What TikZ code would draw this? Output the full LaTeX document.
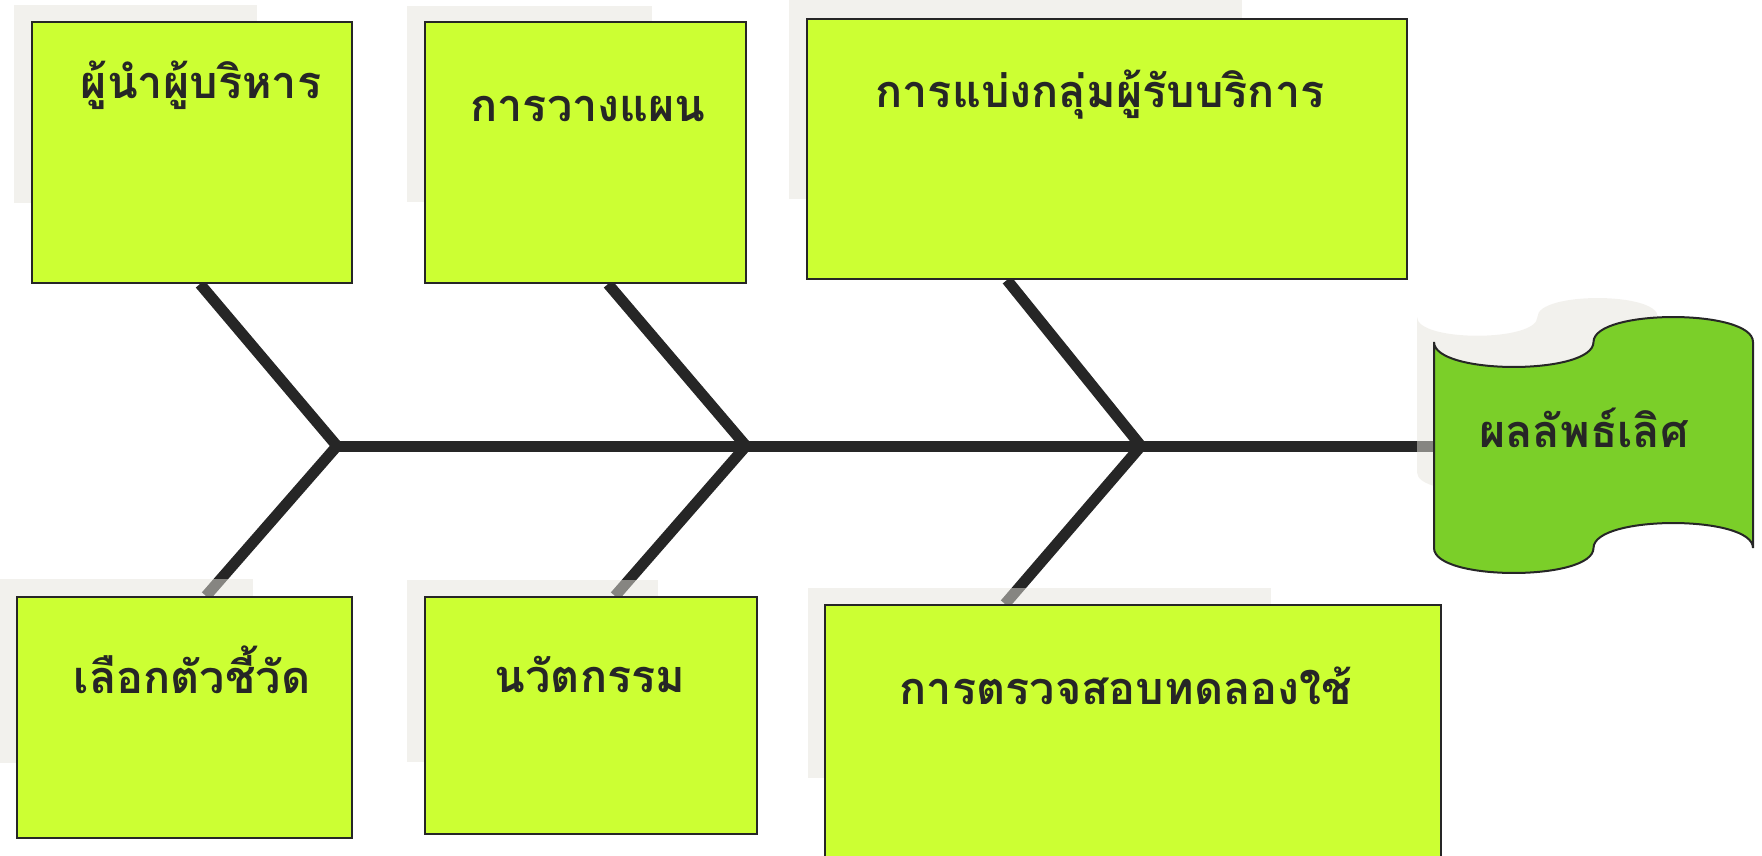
\documentclass[tikz,border=0pt]{standalone}
\usepackage{fontspec}
\newfontfamily\thaifont[Script=Thai]{Loma}
\usetikzlibrary{positioning}

\definecolor{boxgreen}{RGB}{204,255,51}
\definecolor{flaggreen}{RGB}{123,207,41}
\definecolor{inkgray}{RGB}{38,38,38}
\definecolor{shadowgray}{RGB}{230,228,220}

\pgfdeclarelayer{bones}
\pgfdeclarelayer{shadows}
\pgfsetlayers{bones,shadows,main}

\begin{document}
\begin{tikzpicture}[x=1pt,y=-1pt,
  bone/.style={line width=11pt, draw=inkgray},
  box/.style={draw=inkgray, line width=2pt, fill=boxgreen, inner sep=0pt},
  shadowbox/.style={fill=shadowgray, fill opacity=0.5},
  lbl/.style={anchor=base, text=inkgray, inner sep=0pt,
    font=\thaifont\bfseries\fontsize{45}{50}\selectfont}]

\useasboundingbox (0,0) rectangle (1762,855);

% the cause boxes
\node[box, minimum width=320pt, minimum height=261pt] (lead) at (192,152.5) {};
\node[box, minimum width=321pt, minimum height=261pt] (plan) at (585.5,152.5) {};
\node[box, minimum width=600pt, minimum height=260pt] (segment) at (1107,149) {};
\node[box, minimum width=335pt, minimum height=241pt] (kpi) at (184.5,717.5) {};
\node[box, minimum width=332pt, minimum height=237pt] (innov) at (591,715.5) {};
\node[box, minimum width=616pt, minimum height=252pt] (trial) at (1133,731) {};

\node[lbl] (leadtxt) at (201,98) {ผู้นำผู้บริหาร};
\node[lbl] (plantxt) at (588,121) {การวางแผน};
\node[lbl] (segtxt) at (1100,107) {การแบ่งกลุ่มผู้รับบริการ};
\node[lbl] (kpitxt) at (192,693) {เลือกตัวชี้วัด};
\node[lbl] (innovtxt) at (590,692) {นวัตกรรม};
\node[lbl] (trialtxt) at (1126,704) {การตรวจสอบทดลองใช้};

% the effect
\draw[draw=inkgray, line width=2pt, fill=flaggreen]
  (1434,342) .. controls (1434,375.3) and (1593.5,375.3) .. (1593.5,342)
  .. controls (1593.5,308.7) and (1753,308.7) .. (1753,342)
  -- (1753,548) .. controls (1753,514.7) and (1593.5,514.7) .. (1593.5,548)
  .. controls (1593.5,581.3) and (1434,581.3) .. (1434,548) -- cycle;
\node[lbl] (res) at (1584,447) {ผลลัพธ์เลิศ};

% spine and bones
\coordinate (j1) at (337,446);
\coordinate (j2) at (746,446);
\coordinate (j3) at (1141,446);

\begin{pgfonlayer}{bones}
\draw[bone] (j1) -- (j1 -| res.west);
\draw[bone] ([xshift=8pt]lead.south) -- (j1) -- ([xshift=21.5pt]kpi.north);
\draw[bone] ([xshift=22.5pt]plan.south) -- (j2) -- ([xshift=24pt]innov.north);
\draw[bone] ([xshift=-100pt]segment.south) -- (j3) -- ([xshift=-128pt]trial.north);
\end{pgfonlayer}

% shadows
\begin{pgfonlayer}{shadows}
\fill[shadowbox] (14,5) rectangle (257,203);
\fill[shadowbox] (407,6) rectangle (652,202);
\fill[shadowbox] (789,0) rectangle (1242,199);
\fill[shadowbox] (0,579) rectangle (253,763);
\fill[shadowbox] (407,580) rectangle (658,762);
\fill[shadowbox] (808,588) rectangle (1271,778);
\begin{scope}[shift={(1417,298)}, scale=0.755, shift={(-1434,-317)}]
\fill[shadowbox]
  (1434,342) .. controls (1434,375.3) and (1593.5,375.3) .. (1593.5,342)
  .. controls (1593.5,308.7) and (1753,308.7) .. (1753,342)
  -- (1753,548) .. controls (1753,514.7) and (1593.5,514.7) .. (1593.5,548)
  .. controls (1593.5,581.3) and (1434,581.3) .. (1434,548) -- cycle;
\end{scope}
\end{pgfonlayer}

\end{tikzpicture}
\end{document}
